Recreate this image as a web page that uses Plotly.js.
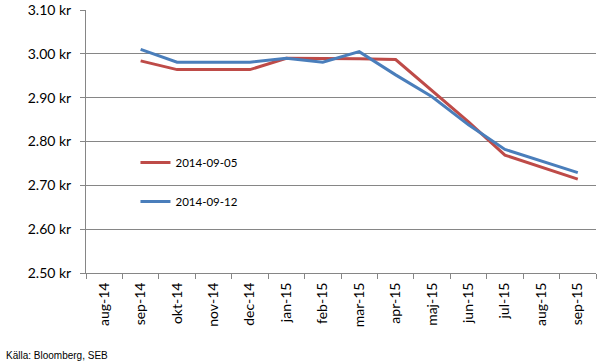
<!DOCTYPE html>
<html>
<head>
<meta charset="utf-8">
<script src="https://cdn.plot.ly/plotly-3.0.1.min.js"></script>
<style>html,body{margin:0;padding:0;background:#fff;}#chart{width:602px;height:364px;}</style>
</head>
<body>
<div id="chart"></div>
<script>
const months = ["aug-14","sep-14","okt-14","nov-14","dec-14","jan-15","feb-15","mar-15","apr-15","maj-15","jun-15","jul-15","aug-15","sep-15"];
const seriesNames = ["2014-09-05","2014-09-12"];
const values0905 = [null,2.984,2.964,2.964,2.964,2.990,2.990,2.989,2.987,2.915,2.845,2.769,2.742,2.714];
const values0912 = [null,3.010,2.981,2.981,2.981,2.990,2.981,3.005,2.952,2.902,2.838,2.782,2.755,2.729];
const colors = ["#BE4B48","#4A7EBB"];

const traces = [values0905, values0912].map((vals, i) => ({
  x: months, y: vals, type: "scatter", mode: "lines", name: seriesNames[i],
  legendgroup: "g" + i,
  line: {color: colors[i], width: 3}, connectgaps: false
}));

const layout = {
  width: 602, height: 364,
  margin: {l: 86, r: 6, t: 10, b: 91},
  paper_bgcolor: "#fff", plot_bgcolor: "#fff",
  font: {family: "Lato, 'Open Sans', sans-serif", size: 14, color: "#000"},
  showlegend: true,
  legend: {x: 0.097, y: 0.475, xanchor: "left", yanchor: "top", bgcolor: "rgba(0,0,0,0)",
    font: {size: 11.5, family: "Lato, sans-serif"}, tracegroupgap: 20},
  xaxis: {type: "category", categoryorder: "array", categoryarray: months,
    range: [-0.5, 13.5], tickangle: -90, ticks: "outside", tickson: "boundaries",
    ticklen: 5, tickcolor: "#868686", showline: true, linecolor: "#868686", linewidth: 1,
    showgrid: false, zeroline: false, tickfont: {size: 14}, ticklabelstandoff: 3},
  yaxis: {range: [2.5, 3.1], dtick: 0.1, tickformat: ".2f", ticksuffix: " kr",
    ticks: "outside", ticklen: 5, tickcolor: "#868686", showline: true, linecolor: "#868686",
    linewidth: 1, showgrid: true, gridcolor: "#868686", gridwidth: 1, zeroline: false,
    tickfont: {size: 14}, ticklabelstandoff: 6},
  annotations: [{text: "Källa: Bloomberg, SEB", xref: "paper", yref: "paper",
    x: -0.161, y: -0.315, xanchor: "left", yanchor: "middle", showarrow: false,
    font: {family: "'Liberation Sans Narrow', 'Liberation Sans', Arial, sans-serif", size: 10, color: "#000"}}]
};

Plotly.newPlot("chart", traces, layout, {displayModeBar: false, staticPlot: true});
</script>
</body>
</html>
